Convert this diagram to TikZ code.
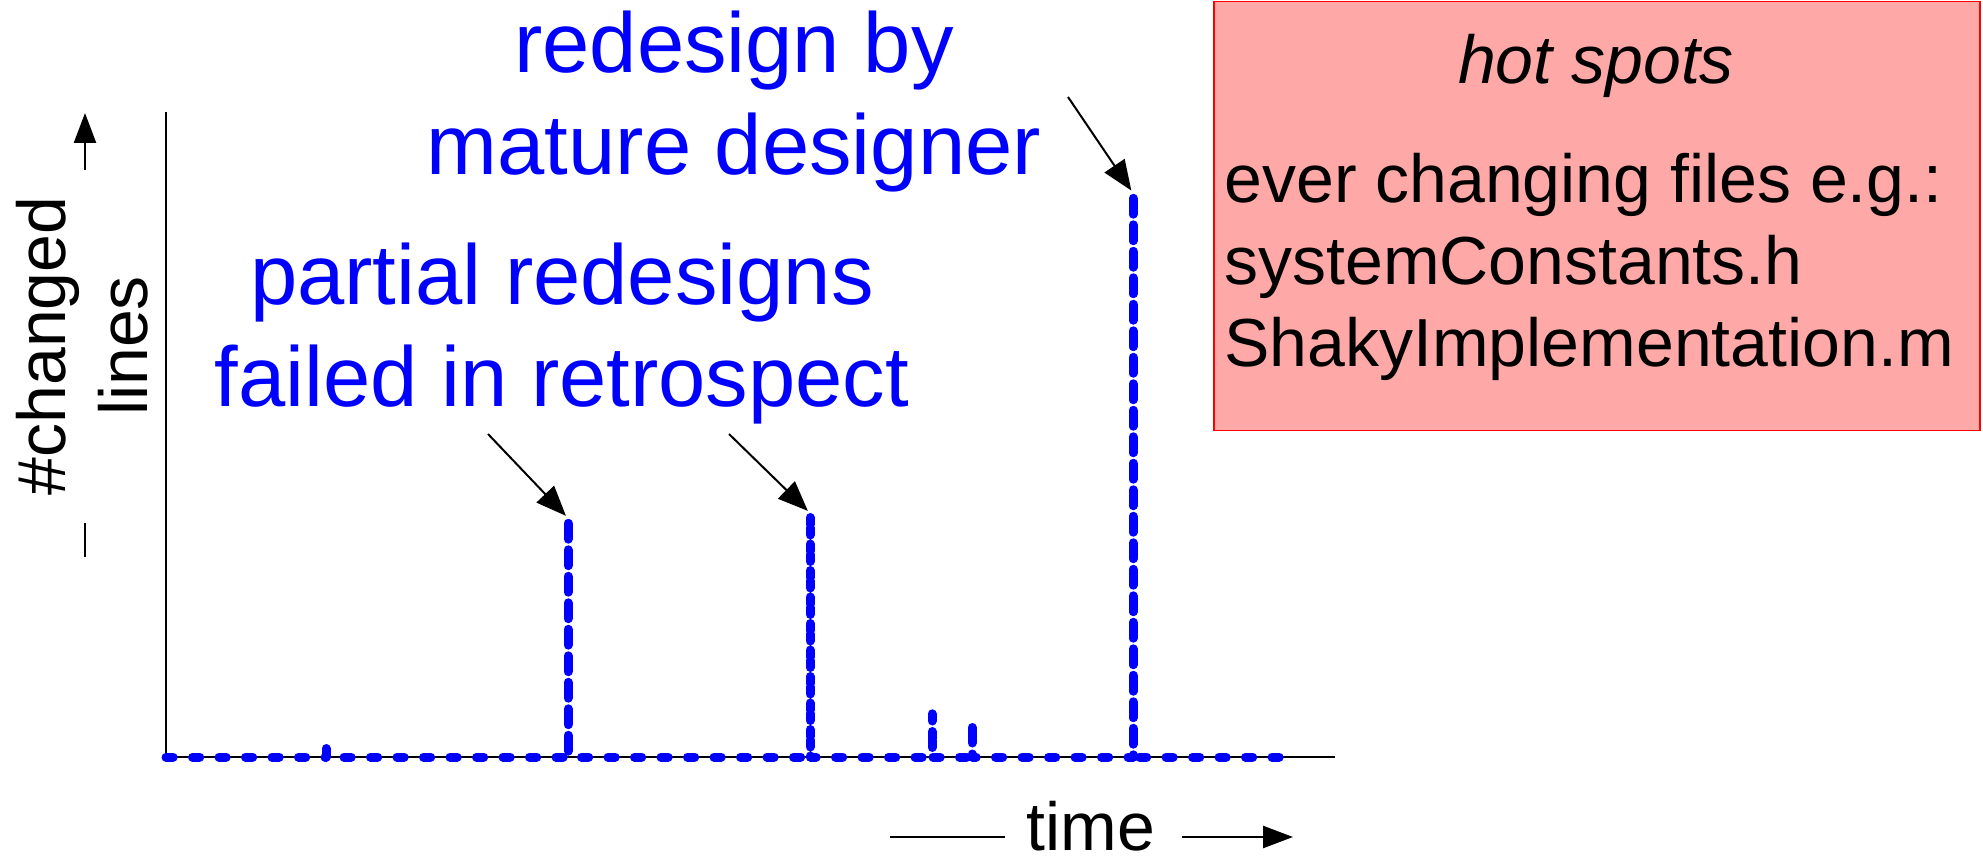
\documentclass[tikz,border=0pt]{standalone}
\usepackage{fontspec}
\setmainfont{Liberation Sans}
\usetikzlibrary{arrows.meta}
\definecolor{plotblue}{RGB}{0,0,255}
\definecolor{hotfill}{RGB}{255,168,168}
\definecolor{hotedge}{RGB}{255,0,0}
\begin{document}
\begin{tikzpicture}[x=0.5pt,y=-0.5pt,
  axis/.style={black, line width=1.25pt},
  axisarrow/.style={axis, -{Triangle[length=15pt,width=11pt]}},
  trend/.style={plotblue, line width=4.5pt, line cap=round, line join=round,
                dash pattern=on 3.6pt off 9.65pt},
  callout/.style={black, line width=1pt, shorten >=1.5pt,
                  -{Triangle[length=15pt,width=12pt]}},
  bluelabel/.style={plotblue, font=\fontsize{42.5}{51}\selectfont,
                    align=center, inner sep=0pt, anchor=north},
  axislabel/.style={black, font=\fontsize{34}{41}\selectfont,
                    align=center, inner sep=0pt},
  hotbox/.style={draw=hotedge, line width=0.75pt, fill=hotfill,
                 inner sep=0pt, anchor=north west,
                 minimum width=383pt, minimum height=214.5pt},
  boxtext/.style={black, font=\fontsize{34}{41}\selectfont, inner sep=0pt}]
\useasboundingbox (0,0) rectangle (1983,861);

% axes
\coordinate (origin) at (166,757);
\coordinate (ytop)   at (166,112);
\coordinate (xend)   at (1335,757);
\draw[axis] (ytop) -- (origin) -- (xend);

% vertical axis caption with its arrow
\node[axislabel, rotate=90, anchor=north] (ylabel) at (16,346) {\#changed\\lines};
\coordinate (ylow0) at (85,557);
\coordinate (ylow1) at (85,523);
\coordinate (yup0)  at (85,170);
\coordinate (yup1)  at (85,113);
\draw[axis] (ylow0) -- (ylow1);
\draw[axisarrow] (yup0) -- (yup1);

% horizontal axis caption with its arrow
\node[axislabel, anchor=base] (tlabel) at (1091,850) {time};
\coordinate (tl0) at (890,837);
\coordinate (tl1) at (1005,837);
\coordinate (tr0) at (1182,837);
\coordinate (tr1) at (1293,837);
\draw[axis] (tl0) -- (tl1);
\draw[axisarrow] (tr0) -- (tr1);

% change history: baseline with spikes
\coordinate (b1) at (326,757);  \coordinate (s1) at (326,740);
\coordinate (b2) at (568,757);  \coordinate (s2) at (568,518);
\coordinate (b3) at (810,757);  \coordinate (s3) at (810,513);
\coordinate (b4) at (932,757);  \coordinate (s4) at (932,713);
\coordinate (b5) at (972,757);  \coordinate (s5) at (972,722);
\coordinate (b6) at (1133,757); \coordinate (s6) at (1133,193);
\coordinate (bend) at (1287,757);
\draw[trend] (origin) -- (b1) -- (s1) -- (b1) -- (b2) -- (s2) -- (b2)
  -- (b3) -- (s3) -- (b3) -- (b4) -- (s4) -- (b4) -- (b5) -- (s5) -- (b5)
  -- (b6) -- (s6) -- (b6) -- (bend);
% the tall spike is drawn twice with shifted dashes, so it reads almost solid
\draw[trend, dash phase=6.6pt] (b6) -- (s6);

% annotations
\node[bluelabel] (mature) at (734,11) {redesign by\\mature designer};
\node[bluelabel] (partial) at (562,243) {partial redesigns\\failed in retrospect};
\coordinate (c1) at (488,434);
\coordinate (c2) at (729,434);
\coordinate (c3) at (1068,97);
\draw[callout] (c1) -- (s2);
\draw[callout] (c2) -- (s3);
\draw[callout] (c3) -- (s6);

% hot spots box
\node[hotbox] (hot) at (1213,1) {};
\node[boxtext, anchor=base, font=\fontsize{34}{41}\selectfont\itshape] (hottitle) at (1596,84) {hot spots};
\node[boxtext, anchor=north west, align=left] (hotfiles) at (1224,153)
  {ever changing files e.g.:\\systemConstants.h\\ShakyImplementation.m};
\end{tikzpicture}
\end{document}
